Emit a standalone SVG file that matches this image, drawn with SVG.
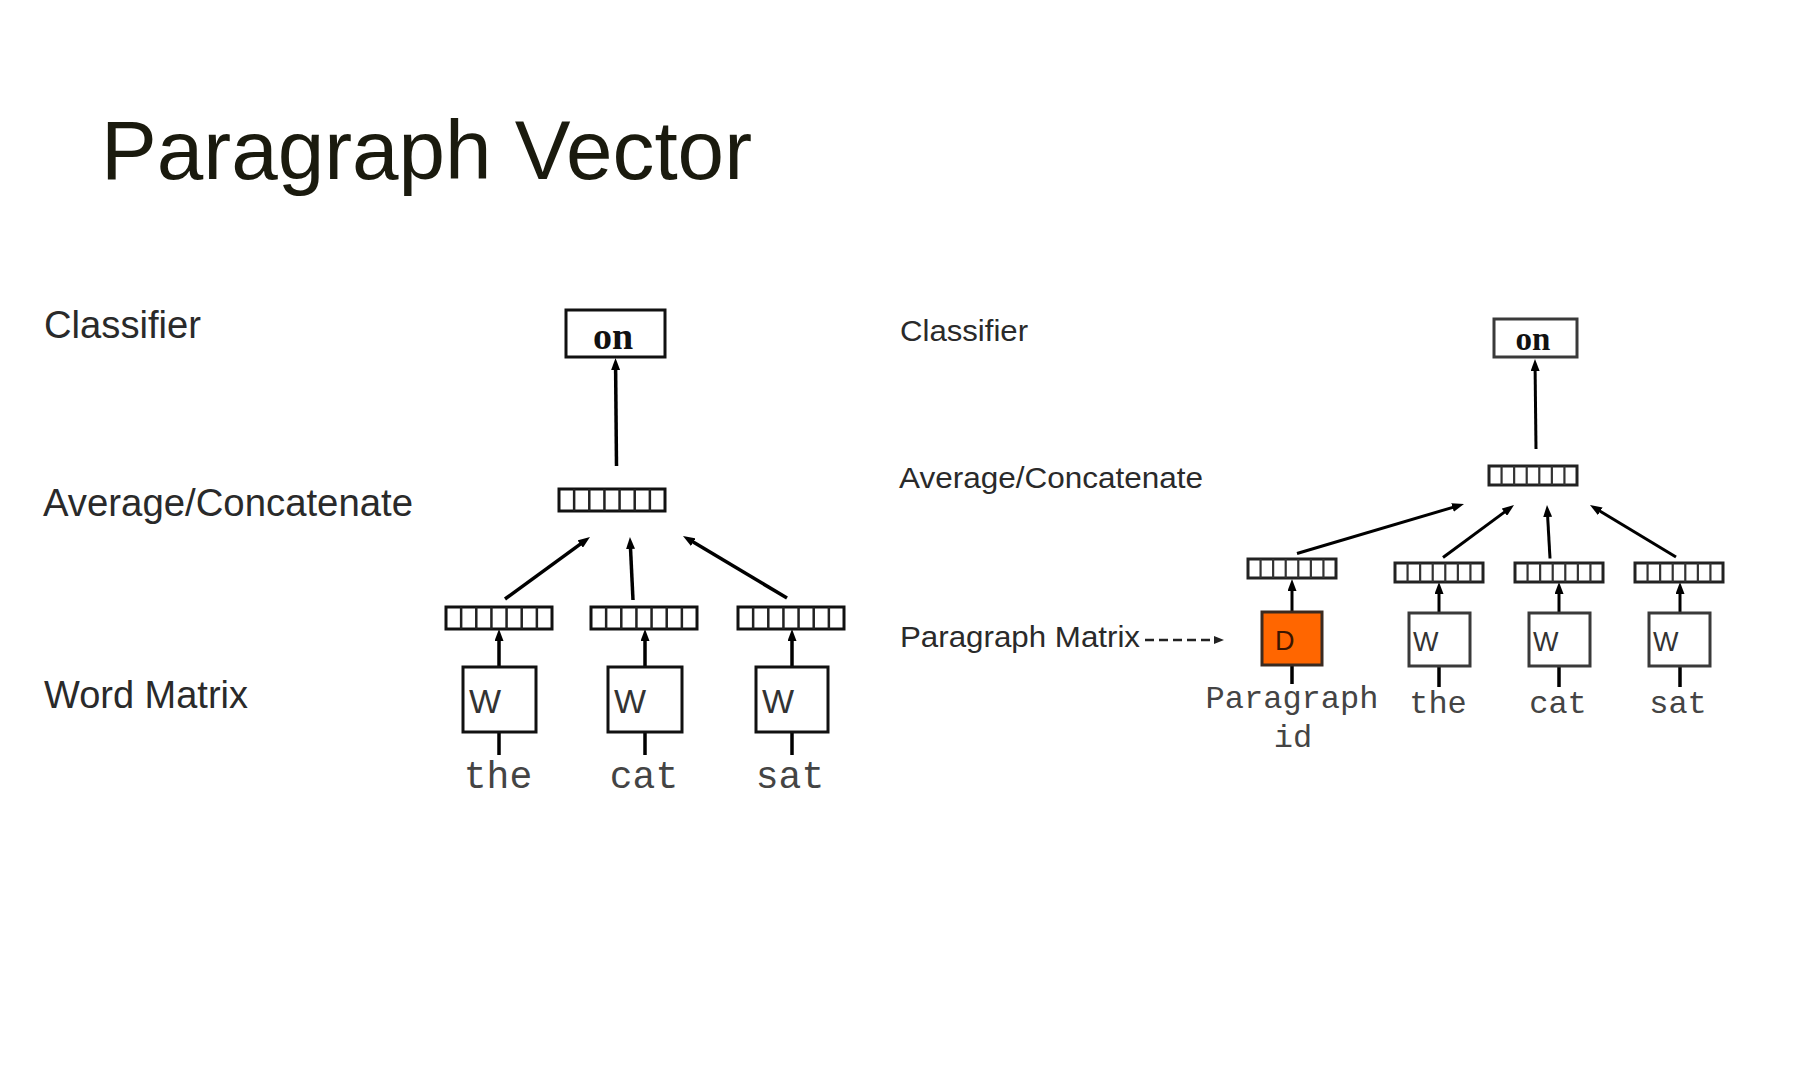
<svg xmlns="http://www.w3.org/2000/svg" xmlns:xlink="http://www.w3.org/1999/xlink" width="1797" height="1067" viewBox="0 0 1797 1067">
<style>
.title{font-family:"Liberation Sans",Arial,sans-serif;font-size:84px;fill:#1a1a0e}
.lblL{font-family:"Liberation Sans",Arial,sans-serif;font-size:38px;fill:#2a2a2a}
.lblR{font-family:"Liberation Sans",Arial,sans-serif;font-size:30px;fill:#2a2a2a}
.monoL{font-family:"Liberation Mono","Courier New",monospace;font-size:38px;fill:#444;text-anchor:middle}
.monoR{font-family:"Liberation Mono","Courier New",monospace;font-size:32px;fill:#444;text-anchor:middle}
.onL{font-family:"Liberation Serif","Times New Roman",serif;font-weight:bold;font-size:38px;fill:#111;text-anchor:middle}
.onR{font-family:"Liberation Serif","Times New Roman",serif;font-weight:bold;font-size:33px;fill:#111;text-anchor:middle}
.wL{font-family:"Liberation Sans",Arial,sans-serif;font-size:34px;fill:#333}
.wR{font-family:"Liberation Sans",Arial,sans-serif;font-size:27px;fill:#333}
.box{fill:#fff;stroke:#111;stroke-width:3}
.boxR{fill:#fff;stroke:#3a3a3a;stroke-width:3}
.dbox{fill:#ff6600;stroke:#3a2a20;stroke-width:3}
.conL{stroke:#000;stroke-width:3.5;fill:none}
.conR{stroke:#000;stroke-width:3;fill:none}
.stem{stroke:#000;stroke-width:3.5;fill:none}
</style>
<defs>
<marker id="ah" markerUnits="userSpaceOnUse" markerWidth="12" markerHeight="9" refX="3" refY="4.5" orient="auto">
<path d="M0,0 L12,4.5 L0,9 z" fill="#000"/>
</marker>
<marker id="ahs" markerUnits="userSpaceOnUse" markerWidth="10" markerHeight="8" refX="0" refY="4" orient="auto">
<path d="M0,0 L10,4 L0,8 z" fill="#222"/>
</marker>
<g id="vecL">
<rect x="0" y="0" width="106" height="22" fill="#fff" stroke="#111" stroke-width="3"/>
<path d="M15.14,0V22M30.29,0V22M45.43,0V22M60.57,0V22M75.71,0V22M90.86,0V22" stroke="#222" stroke-width="2.5"/>
</g>
<g id="vecR">
<rect x="0" y="0" width="88" height="19" fill="#fff" stroke="#222" stroke-width="3"/>
<path d="M12.57,0V19M25.14,0V19M37.71,0V19M50.29,0V19M62.86,0V19M75.43,0V19" stroke="#333" stroke-width="2.2"/>
</g>
</defs>
<rect width="1797" height="1067" fill="#fff"/>

<g id="title"><text class="title" x="101" y="179" textLength="651" lengthAdjust="spacingAndGlyphs">Paragraph Vector</text></g>

<g id="left-labels">
<text class="lblL" x="44" y="338" textLength="157" lengthAdjust="spacingAndGlyphs">Classifier</text>
<text class="lblL" x="43" y="516" textLength="370" lengthAdjust="spacingAndGlyphs">Average/Concatenate</text>
<text class="lblL" x="44" y="708" textLength="204" lengthAdjust="spacingAndGlyphs">Word Matrix</text>
</g>

<g id="right-labels">
<text class="lblR" x="900" y="341" textLength="128" lengthAdjust="spacingAndGlyphs">Classifier</text>
<text class="lblR" x="899" y="488" textLength="304" lengthAdjust="spacingAndGlyphs">Average/Concatenate</text>
<text class="lblR" x="900" y="647" textLength="240" lengthAdjust="spacingAndGlyphs">Paragraph Matrix</text>
</g>

<g id="connectors">
<line class="conL" x1="616.5" y1="466" x2="615.6" y2="367" marker-end="url(#ah)"/>
<line class="conL" x1="505" y1="599" x2="582.7" y2="542.3" marker-end="url(#ah)"/>
<line class="conL" x1="633" y1="600" x2="630.4" y2="546" marker-end="url(#ah)"/>
<line class="conL" x1="787" y1="598" x2="690.7" y2="540.6" marker-end="url(#ah)"/>
<line class="conL" x1="499" y1="667" x2="499" y2="638" marker-end="url(#ah)"/>
<line class="conL" x1="645" y1="667" x2="645" y2="638" marker-end="url(#ah)"/>
<line class="conL" x1="792" y1="667" x2="792" y2="638" marker-end="url(#ah)"/>
<line class="stem" x1="499" y1="732" x2="499" y2="755"/>
<line class="stem" x1="645" y1="732" x2="645" y2="755"/>
<line class="stem" x1="792" y1="732" x2="792" y2="755"/>
<line class="conR" x1="1536" y1="449" x2="1535.1" y2="368" marker-end="url(#ah)"/>
<line class="conR" x1="1297" y1="553.5" x2="1455.4" y2="506.6" marker-end="url(#ah)"/>
<line class="conR" x1="1443" y1="557.5" x2="1506.8" y2="510.4" marker-end="url(#ah)"/>
<line class="conR" x1="1550" y1="558.5" x2="1547.5" y2="514" marker-end="url(#ah)"/>
<line class="conR" x1="1676" y1="557" x2="1597.7" y2="509.7" marker-end="url(#ah)"/>
<line class="conR" x1="1292" y1="612" x2="1292" y2="588" marker-end="url(#ah)"/>
<line class="conR" x1="1439" y1="613" x2="1439" y2="591" marker-end="url(#ah)"/>
<line class="conR" x1="1559" y1="613" x2="1559" y2="591" marker-end="url(#ah)"/>
<line class="conR" x1="1680" y1="613" x2="1680" y2="591" marker-end="url(#ah)"/>
<line class="stem" x1="1292" y1="665" x2="1292" y2="684"/>
<line class="stem" x1="1439" y1="666" x2="1439" y2="687"/>
<line class="stem" x1="1559" y1="666" x2="1559" y2="687"/>
<line class="stem" x1="1680" y1="666" x2="1680" y2="687"/>
<line x1="1145" y1="640" x2="1214" y2="640" stroke="#222" stroke-width="2.5" stroke-dasharray="9 5" marker-end="url(#ahs)"/>
</g>

<g id="left-on"><rect class="box" x="566" y="310" width="99" height="47"/><text class="onL" x="613" y="349">on</text></g>
<g id="left-avg"><use xlink:href="#vecL" x="559" y="489"/></g>
<g id="left-vec-the"><use xlink:href="#vecL" x="446" y="607"/></g>
<g id="left-vec-cat"><use xlink:href="#vecL" x="591" y="607"/></g>
<g id="left-vec-sat"><use xlink:href="#vecL" x="738" y="607"/></g>
<g id="left-w-the"><rect class="box" x="463" y="667" width="73" height="65"/><text class="wL" x="469" y="713">W</text></g>
<g id="left-w-cat"><rect class="box" x="608" y="667" width="74" height="65"/><text class="wL" x="614" y="713">W</text></g>
<g id="left-w-sat"><rect class="box" x="756" y="667" width="72" height="65"/><text class="wL" x="762" y="713">W</text></g>
<g id="left-words">
<text class="monoL" x="498" y="788">the</text>
<text class="monoL" x="644" y="788">cat</text>
<text class="monoL" x="790" y="788">sat</text>
</g>

<g id="right-on"><rect class="boxR" x="1494" y="319" width="83" height="38"/><text class="onR" x="1533" y="350">on</text></g>
<g id="right-avg"><use xlink:href="#vecR" x="1489" y="466"/></g>
<g id="right-vec-d"><use xlink:href="#vecR" x="1248" y="559"/></g>
<g id="right-vec-the"><use xlink:href="#vecR" x="1395" y="563"/></g>
<g id="right-vec-cat"><use xlink:href="#vecR" x="1515" y="563"/></g>
<g id="right-vec-sat"><use xlink:href="#vecR" x="1635" y="563"/></g>
<g id="right-d"><rect class="dbox" x="1262" y="612" width="60" height="53"/><text class="wR" x="1275" y="650" style="fill:#3a1500">D</text></g>
<g id="right-w-the"><rect class="boxR" x="1409" y="613" width="61" height="53"/><text class="wR" x="1413" y="651">W</text></g>
<g id="right-w-cat"><rect class="boxR" x="1529" y="613" width="61" height="53"/><text class="wR" x="1533" y="651">W</text></g>
<g id="right-w-sat"><rect class="boxR" x="1649" y="613" width="61" height="53"/><text class="wR" x="1653" y="651">W</text></g>
<g id="right-words">
<text class="monoR" x="1292" y="708">Paragraph</text>
<text class="monoR" x="1293" y="747">id</text>
<text class="monoR" x="1438" y="713">the</text>
<text class="monoR" x="1558" y="713">cat</text>
<text class="monoR" x="1678" y="713">sat</text>
</g>
</svg>
